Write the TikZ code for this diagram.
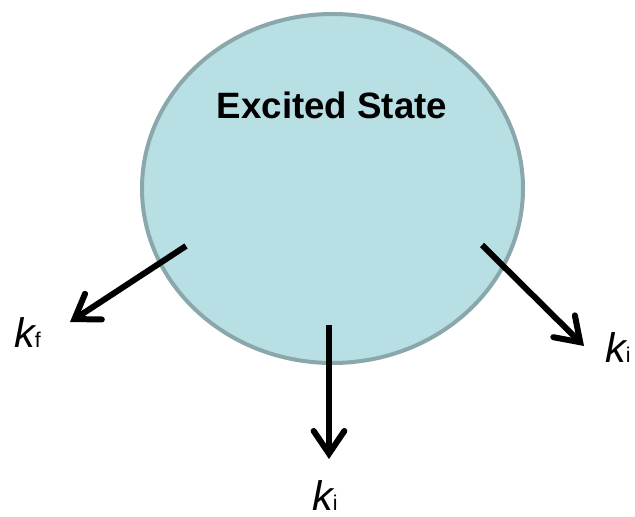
\documentclass[tikz,border=0pt]{standalone}
\usepackage{fontspec}
\setmainfont{Liberation Sans}
\usetikzlibrary{arrows.meta,shapes.geometric}
\definecolor{statefill}{RGB}{184,223,227}
\definecolor{stateline}{RGB}{138,168,172}

\newcommand{\rate}[1]{{\fontsize{31}{31}\selectfont\itshape k}{\fontsize{16}{16}\selectfont #1}}

\begin{document}
\begin{tikzpicture}[
  x=0.75pt, y=-0.75pt,
  state/.style={ellipse, draw=stateline, fill=statefill, line width=3pt, inner sep=0pt, minimum width=285.75pt, minimum height=261.75pt},
  title/.style={font=\fontsize{27.5}{27.5}\selectfont\bfseries},
  rlbl/.style={anchor=base west, inner sep=0pt},
  arr/.style={-{Straight Barb[length=17pt,width=23pt,line cap=round]}, line width=4.5pt},
]
\useasboundingbox (0,0) rectangle (635,517);

% excited state
\node[state] (es) at (332.5,188.5) {};
\node[title] (es-text) at (332,105) {Excited State};

% decay channels
\coordinate (fstart) at (186,246);
\coordinate (fend)   at (70,322);
\coordinate (istart) at (329,325);
\coordinate (iend)   at (329,459);
\coordinate (nstart) at (482,245);
\coordinate (nend)   at (584,346);

\node[rlbl] (kf) at (14,347) {\rate{f}};
\node[rlbl] (ki-down) at (312,510) {\rate{i}};
\node[rlbl] (ki-right) at (605,362) {\rate{i}};

\draw[arr] (fstart) -- (fend);
\draw[arr] (istart) -- (iend);
\draw[arr] (nstart) -- (nend);

\end{tikzpicture}
\end{document}
